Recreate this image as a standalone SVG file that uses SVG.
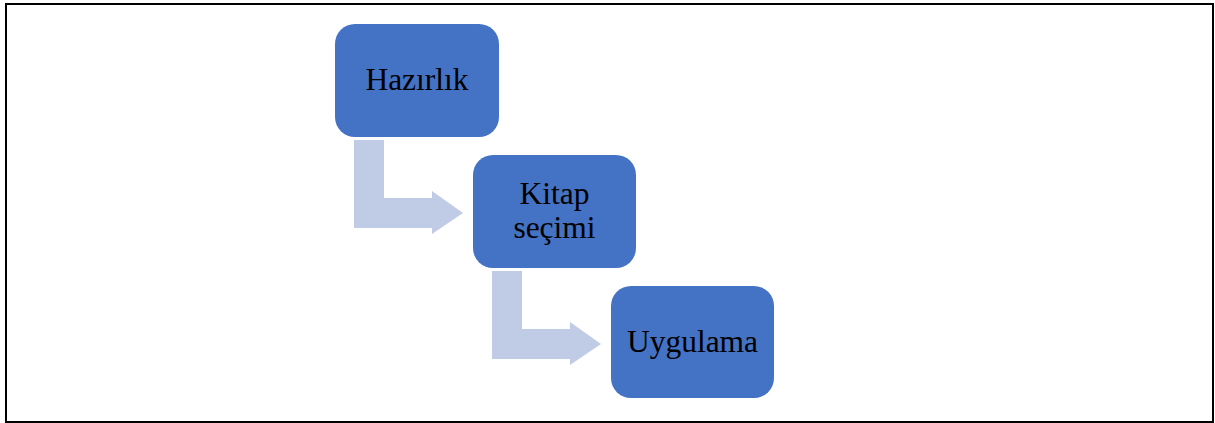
<svg xmlns="http://www.w3.org/2000/svg" width="1215" height="423" viewBox="0 0 1215 423">
<style>
.node{fill:#4472C4;}
.lbl{font-family:"Liberation Serif","Times New Roman",serif;font-size:31.5px;fill:#000;text-anchor:middle;}
.arr{fill:#C0CBE5;}
</style>
<rect x="0" y="0" width="1215" height="423" fill="#fff"/>
<rect x="6" y="4" width="1207" height="418" fill="none" stroke="#000" stroke-width="2"/>
<g id="connectors">
<path class="arr" d="M354,140 H384 V198 H432 V191 L463,213 L432,234 V228 H354 Z"/>
<path class="arr" d="M492,271 H522 V329 H570 V322 L601,344 L570,365 V359 H492 Z"/>
</g>
<g id="hazirlik">
<rect class="node" x="335" y="24" width="164" height="113" rx="20"/>
<text class="lbl" x="417" y="90">Hazırlık</text>
</g>
<g id="kitap-secimi">
<rect class="node" x="473" y="155" width="163" height="113" rx="20"/>
<text class="lbl" x="554.5" y="204">Kitap</text>
<text class="lbl" x="554.5" y="238">seçimi</text>
</g>
<g id="uygulama">
<rect class="node" x="611" y="286" width="163" height="112" rx="20"/>
<text class="lbl" x="692.5" y="352">Uygulama</text>
</g>
</svg>
